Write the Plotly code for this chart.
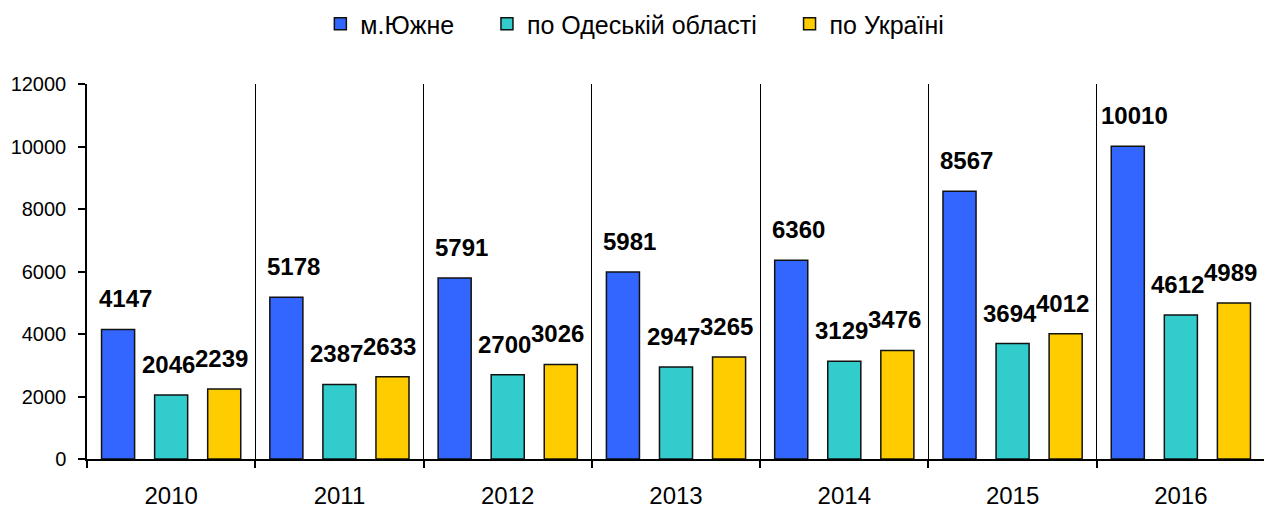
import plotly.graph_objects as go

years = ["2010", "2011", "2012", "2013", "2014", "2015", "2016"]
yuzhne = [4147, 5178, 5791, 5981, 6360, 8567, 10010]
odesa = [2046, 2387, 2700, 2947, 3129, 3694, 4612]
ukraine = [2239, 2633, 3026, 3265, 3476, 4012, 4989]
series_names = ["м.Южне", "по Одеській області", "по Україні"]
series_colors = ["#3366FF", "#33CCCC", "#FFCC00"]
y_ticks = [0, 2000, 4000, 6000, 8000, 10000, 12000]

FONT = "Liberation Sans, Arial, sans-serif"
# page has an 8px body margin; figure sized so that it fills the 1272x510 window
W, H = 1264, 502
ML, MR, MT, MB = 79, 7, 76, 51
BARGAP = 0.054
BARGROUPGAP = 0.377

fig = go.Figure()
all_series = [yuzhne, odesa, ukraine]
NBSP = "\u00a0"
for name, vals, col in zip(series_names, all_series, series_colors):
    fig.add_trace(go.Bar(
        x=years, y=vals, name=name + NBSP * 4,
        marker=dict(color=col, line=dict(color="#111111", width=1.5)),
        hoverinfo="x+y",
    ))

# data labels above bars
plot_w = W - ML - MR
cat_w = plot_w / len(years)
slot = cat_w * (1 - BARGAP) / 3
label_nudge = [7, -3, -3]
annotations = []
for si, vals in enumerate(all_series):
    xshift = (si - 1) * slot + label_nudge[si]
    for xi, v in enumerate(vals):
        annotations.append(dict(
            x=xi, y=v, xref="x", yref="y",
            text=f"<b>{v}</b>", showarrow=False,
            xanchor="center", yanchor="bottom",
            xshift=xshift, yshift=15,
            font=dict(family=FONT, size=24, color="#000000"),
        ))

fig.update_layout(
    width=W, height=H,
    margin=dict(l=ML, r=MR, t=MT, b=MB, autoexpand=False),
    paper_bgcolor="white", plot_bgcolor="white",
    barmode="group", bargap=BARGAP, bargroupgap=BARGROUPGAP,
    font=dict(family=FONT, color="#000000"),
    legend=dict(
        orientation="h", xref="container", x=0.507, xanchor="center",
        yref="container", y=0.968, yanchor="middle",
        font=dict(family=FONT, size=25, color="#000000"),
        itemwidth=30,
    ),
    annotations=annotations,
    showlegend=True,
)
fig.update_xaxes(
    type="category", categoryorder="array", categoryarray=years,
    range=[-0.5, len(years) - 0.5], automargin=False,
    tickson="boundaries", ticks="outside", ticklen=7, tickcolor="#000000",
    tickwidth=1.5,
    showgrid=True, gridcolor="#000000", gridwidth=1,
    showline=True, linecolor="#000000", linewidth=1.5,
    ticklabelstandoff=14,
    tickfont=dict(family=FONT, size=24, color="#000000"),
)
fig.update_yaxes(
    range=[0, 12000], tickvals=y_ticks, tickformat="d", automargin=False,
    ticks="outside", ticklen=7, tickcolor="#000000", tickwidth=1.5,
    showgrid=False, zeroline=False,
    showline=True, linecolor="#000000", linewidth=1.5,
    ticklabelstandoff=8,
    tickfont=dict(family=FONT, size=20, color="#000000"),
)

fig.write_html("out.html")
